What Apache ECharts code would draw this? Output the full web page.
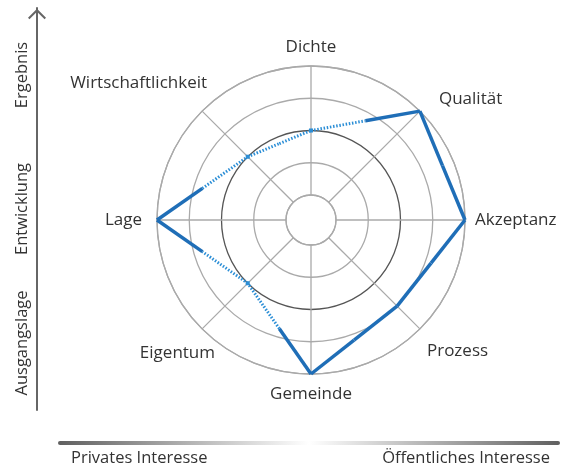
<!DOCTYPE html>
<html>
<head>
<meta charset="utf-8">
<script src="https://cdn.jsdelivr.net/npm/echarts@6/dist/echarts.min.js"></script>
<style>
  html, body { margin: 0; padding: 0; background: #fff; }
  #chart { width: 576px; height: 466px; }
</style>
</head>
<body>
<div id="chart"></div>
<script>
// Kriterien im Uhrzeigersinn, beginnend oben
const categories = ['Dichte', 'Qualität', 'Akzeptanz', 'Prozess', 'Gemeinde', 'Eigentum', 'Lage', 'Wirtschaftlichkeit']
const values = [2, 4, 4, 3, 4, 2, 4, 2]
// true = durchgezogen, false = gepunktet
const solid = [false, true, true, true, true, false, true, false]
const yLabels = ['Ausgangslage', 'Entwicklung', 'Ergebnis']
const xLabels = ['Privates Interesse', 'Öffentliches Interesse']

const font = '"Open Sans", Lato, sans-serif'
const fontSize = 17
const solidColor = '#1f6eb7'
const dotColor = '#2b8ed6'
const gridColor = '#aaa'

// Beschriftung der Achsen etwas nachschieben (top, right, bottom, left)
const labelPad = {
  'Qualität': [0, 0, -4, 12],
  'Prozess': [7, 0, 0, 0],
  'Gemeinde': [2, 0, 0, 0],
  'Eigentum': [9, -20, 0, 0],
  'Lage': [0, 5, 0, 0],
  'Wirtschaftlichkeit': [0, -12, 12, 0]
}

const chart = echarts.init(document.getElementById('chart'))

chart.setOption({
  animation: false,
  textStyle: { fontFamily: font },
  grid: [
    { left: 37, top: 8, width: 1, height: 402 },
    { left: 60, right: 18, bottom: 23, height: 1 }
  ],
  xAxis: [
    { gridIndex: 0, type: 'value', show: false },
    {
      gridIndex: 1,
      type: 'category',
      data: [
        { value: xLabels[0], textStyle: { align: 'left', padding: [0, 0, 0, 11] } },
        { value: xLabels[1], textStyle: { align: 'right', padding: [0, 8, 0, 0] } }
      ],
      boundaryGap: false,
      axisTick: { show: false },
      axisLine: {
        lineStyle: {
          width: 4,
          color: new echarts.graphic.LinearGradient(0, 0, 1, 0, [
            { offset: 0, color: '#5f5f5f' },
            { offset: 0.5, color: '#fff' },
            { offset: 1, color: '#5f5f5f' }
          ])
        }
      },
      axisLabel: { interval: 0, color: '#333', fontSize: 16.5, margin: 8, fontFamily: font }
    }
  ],
  yAxis: [
    {
      gridIndex: 0,
      type: 'category',
      data: yLabels,
      axisTick: { show: false },
      axisLine: {
        symbol: ['none', 'path://M0,10 L10,0 L20,10 L18.4,11.6 L10,3.2 L1.6,11.6 Z'],
        symbolSize: [18, 11],
        symbolOffset: [0, -6],
        lineStyle: { color: '#666', width: 2 }
      },
      axisLabel: { interval: 0, hideOverlap: false, rotate: 90, color: '#333', fontSize: 16.5, margin: 6, fontFamily: font }
    },
    { gridIndex: 1, type: 'value', show: false }
  ],
  polar: [
    { center: [311, 220], radius: [25, 154] },
    { center: [311, 220], radius: [25, 154] }
  ],
  angleAxis: [
    {
      polarIndex: 0,
      type: 'category',
      data: categories.map(c => labelPad[c] ? { value: c, textStyle: { padding: labelPad[c] } } : c),
      boundaryGap: false,
      startAngle: 90,
      clockwise: true,
      axisLine: { show: false },
      axisTick: { show: false },
      splitLine: { show: false },
      axisLabel: { interval: 0, color: '#333', fontSize: fontSize, margin: 10, fontFamily: font }
    },
    {
      polarIndex: 1,
      type: 'value',
      min: 0,
      max: 360,
      interval: 45,
      startAngle: 90,
      axisLine: { lineStyle: { color: gridColor, width: 1.3 } },
      axisTick: { show: false },
      axisLabel: { show: false },
      splitLine: { show: true, lineStyle: { color: gridColor, width: 1.3 } }
    }
  ],
  radiusAxis: [
    { polarIndex: 0, type: 'value', min: 0, max: 4, show: false },
    {
      polarIndex: 1,
      type: 'value',
      min: 0,
      max: 4,
      interval: 1,
      axisLine: { show: false },
      axisTick: { show: false },
      axisLabel: { show: false },
      splitLine: {
        show: true,
        lineStyle: { color: [gridColor, gridColor, '#555', gridColor, gridColor], width: 1.3 }
      }
    }
  ],
  series: [{
    type: 'custom',
    coordinateSystem: 'polar',
    polarIndex: 0,
    data: values.map((v, i) => [v, i]),
    renderItem(params, api) {
      const i = params.dataIndex
      const j = (i + 1) % values.length
      const p1 = api.coord([values[i], i])
      const p2 = api.coord([values[j], j])
      const mid = [(p1[0] + p2[0]) / 2, (p1[1] + p2[1]) / 2]
      const half = (a, b, isSolid) => ({
        type: 'line',
        shape: { x1: a[0], y1: a[1], x2: b[0], y2: b[1] },
        style: isSolid
          ? { stroke: solidColor, lineWidth: 3.5, lineCap: 'butt' }
          : { stroke: dotColor, lineWidth: 3, lineDash: [1.5, 1.7] },
        z2: isSolid ? 2 : 1
      })
      const children = [half(p1, mid, solid[i]), half(mid, p2, solid[j])]
      if (!solid[i]) {
        // kleiner Punkt auf dem Kreis
        children.push({ type: 'rect', shape: { x: p1[0] - 2, y: p1[1] - 2, width: 4, height: 4 }, style: { fill: dotColor }, z2: 3 })
      }
      return { type: 'group', children }
    }
  }]
})
</script>
</body>
</html>
